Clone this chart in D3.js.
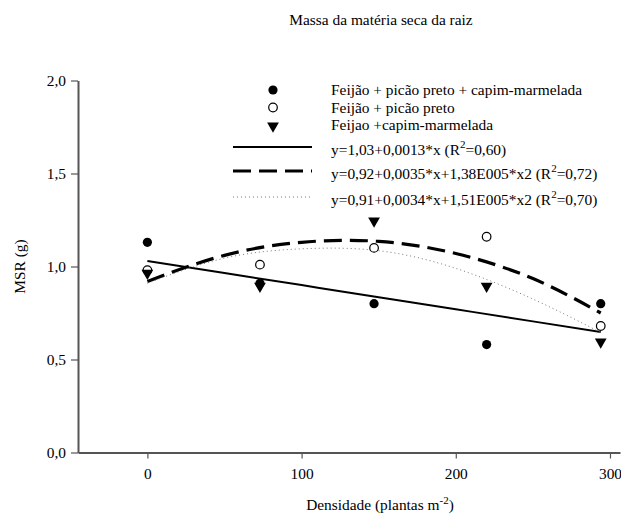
<!DOCTYPE html>
<html>
<head>
<meta charset="utf-8">
<script src="https://cdn.jsdelivr.net/npm/d3@7"></script>
<style>
  body { margin: 0; background: white; }
  svg { display: block; font-family: 'Liberation Serif', 'Times New Roman', serif; }
</style>
</head>
<body>
<svg id="chart" width="621" height="515"></svg>
<script>
// densities (plantas m-2)
const density = [0, 73, 147, 220, 294]
// observed MSR (g)
const feijaoPicaoCapim = [1.13, 0.91, 0.80, 0.58, 0.80]
const feijaoPicao = [0.98, 1.01, 1.10, 1.16, 0.68]
const feijaoCapim = [0.97, 0.90, 1.25, 0.90, 0.60]

// fitted curves
const fitX = [0, 50, 100, 150, 200, 250, 294]
const fitLinear = [1.03, 0.965, 0.90, 0.835, 0.77, 0.705, 0.648]
const fitQuadDashed = [0.92, 1.06, 1.13, 1.135, 1.07, 0.935, 0.75]
const fitQuadDotted = [0.91, 1.045, 1.095, 1.085, 0.99, 0.825, 0.645]

const xTicks = [0, 100, 200, 300]
const yTicks = [0, 0.5, 1.0, 1.5, 2.0]

const title = 'Massa da matéria seca da raiz'
const seriesLabels = [
  'Feijão + picão preto + capim-marmelada',
  'Feijão + picão preto',
  'Feijao +capim-marmelada'
]
const fitLabels = [
  ['y=1,03+0,0013*x (R', '2', '=0,60)'],
  ['y=0,92+0,0035*x+1,38E005*x2 (R', '2', '=0,72)'],
  ['y=0,91+0,0034*x+1,51E005*x2 (R', '2', '=0,70)']
]

const svg = d3.select('#chart')
const axisColor = '#555'
const fontSize = '15.4px'
const supSize = '11px'

const x = d3.scaleLinear().domain([-45, 306.5]).range([78, 620])
const y = d3.scaleLinear().domain([0, 2]).range([452.5, 80.5])

const comma = v => d3.format('.1f')(v).replace('.', ',')

// axes
const xAxis = svg.append('g')
  .attr('transform', `translate(0, ${y(0)})`)
  .call(d3.axisBottom(x).tickValues(xTicks).tickSize(6).tickSizeOuter(0).tickPadding(10).tickFormat(d3.format('d')))
const yAxis = svg.append('g')
  .attr('transform', `translate(${x(-45)}, 0)`)
  .call(d3.axisLeft(y).tickValues(yTicks).tickSize(7).tickSizeOuter(0).tickPadding(5).tickFormat(comma))

for (const g of [xAxis, yAxis]) {
  g.attr('font-family', null)
  g.select('.domain').attr('stroke', axisColor).attr('stroke-width', 2)
  g.selectAll('.tick line').attr('stroke', axisColor).attr('stroke-width', 1.2)
  g.selectAll('.tick text')
    .attr('fill', '#000')
    .style('font-size', fontSize)
}

// title + axis labels
svg.append('text')
  .attr('x', 381).attr('y', 25)
  .attr('text-anchor', 'middle')
  .style('font-size', fontSize)
  .text(title)

const xLab = svg.append('text')
  .attr('x', 380).attr('y', 510)
  .attr('text-anchor', 'middle')
  .style('font-size', fontSize)
xLab.append('tspan').text('Densidade (plantas m')
xLab.append('tspan').attr('dy', -6).style('font-size', supSize).text('-2')
xLab.append('tspan').attr('dy', 6).text(')')

svg.append('text')
  .attr('transform', `translate(25, ${y(1)}) rotate(-90)`)
  .attr('text-anchor', 'middle')
  .style('font-size', fontSize)
  .text('MSR (g)')

// fitted lines
const fitStyles = [
  { data: fitLinear, stroke: '#000', width: 2, dash: null },
  { data: fitQuadDashed, stroke: '#000', width: 3.2, dash: '18,8' },
  { data: fitQuadDotted, stroke: '#777', width: 1, dash: '1,3' }
]
const line = d3.line()
  .x(d => x(d[0]))
  .y(d => y(d[1]))
  .curve(d3.curveNatural)

for (const s of fitStyles) {
  svg.append('path')
    .datum(fitX.map((v, i) => [v, s.data[i]]))
    .attr('d', line)
    .attr('fill', 'none')
    .attr('stroke', s.stroke)
    .attr('stroke-width', s.width)
    .attr('stroke-dasharray', s.dash)
}

// markers
const triangle = d3.symbol().type(d3.symbolTriangle).size(60)

function drawMarker (g, kind, cx, cy) {
  if (kind === 'filled') {
    g.append('circle').attr('cx', cx).attr('cy', cy).attr('r', 4.6).attr('fill', '#000')
  } else if (kind === 'open') {
    g.append('circle').attr('cx', cx).attr('cy', cy).attr('r', 4.3)
      .attr('fill', '#fff').attr('stroke', '#000').attr('stroke-width', 1.2)
  } else {
    g.append('path').attr('d', triangle)
      .attr('transform', `translate(${cx}, ${cy + 1}) rotate(180)`)
      .attr('fill', '#000')
  }
}

const seriesData = [
  { kind: 'filled', values: feijaoPicaoCapim },
  { kind: 'open', values: feijaoPicao },
  { kind: 'triangle', values: feijaoCapim }
]
const pts = svg.append('g')
for (const s of seriesData) {
  s.values.forEach((v, i) => drawMarker(pts, s.kind, x(density[i]), y(v)))
}

// legend
const legend = svg.append('g')
const rowY = [90, 107.5, 125]
seriesData.forEach((s, i) => {
  drawMarker(legend, s.kind, 273, rowY[i])
  legend.append('text')
    .attr('x', 331).attr('y', rowY[i] + 5)
    .style('font-size', fontSize)
    .text(seriesLabels[i])
})

const fitRowY = [147, 171, 197]
fitStyles.forEach((s, i) => {
  legend.append('line')
    .attr('x1', 233).attr('x2', 312)
    .attr('y1', fitRowY[i]).attr('y2', fitRowY[i])
    .attr('stroke', s.stroke)
    .attr('stroke-width', s.width)
    .attr('stroke-dasharray', s.dash)
  const t = legend.append('text')
    .attr('x', 331).attr('y', fitRowY[i] + 8)
    .style('font-size', fontSize)
  t.append('tspan').text(fitLabels[i][0])
  t.append('tspan').attr('dy', -7).style('font-size', supSize).text(fitLabels[i][1])
  t.append('tspan').attr('dy', 7).text(fitLabels[i][2])
})
</script>
</body>
</html>
